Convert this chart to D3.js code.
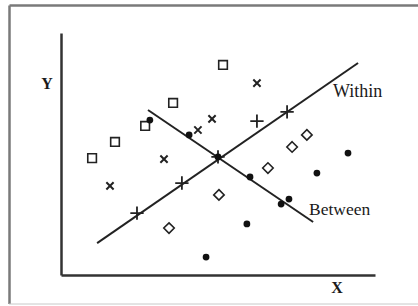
<!DOCTYPE html>
<html>
<head>
<meta charset="utf-8">
<script src="https://cdn.jsdelivr.net/npm/d3@7"></script>
<style>
  body { margin: 0; background: #fff; }
  svg { display: block; }
  .axis path { stroke: #333; stroke-width: 2.5; }
  .lbl { font-family: "Liberation Serif", "DejaVu Serif", serif; fill: #1a1a1a; }
</style>
</head>
<body>
<svg id="chart" width="418" height="306"></svg>
<script>
// point groups, in data units (0..100 on both axes)
var squares  = [[9.9, 48.3], [17.2, 55.0], [26.8, 61.6], [35.7, 71.1], [51.6, 86.8]];
var crosses  = [[15.6, 36.8], [32.8, 47.9], [43.6, 59.9], [48.1, 64.5], [62.4, 79.3]];
var pluses   = [[24.2, 25.6], [38.5, 38.0], [50.0, 48.8], [62.4, 63.6], [72.0, 67.4]];
var diamonds = [[34.4, 19.4], [50.3, 33.1], [65.9, 44.2], [73.6, 52.9], [78.3, 57.9]];
var dots     = [[28.3, 64.0], [40.8, 57.9], [50.0, 48.8], [60.2, 40.5], [70.1, 29.3],
                [72.6, 31.4], [81.5, 42.1], [91.4, 50.4], [59.2, 21.1], [46.2, 7.4]];

// the two discriminant directions
var withinLine  = [[11.5, 13.2], [94.6, 87.6]];
var betweenLine = [[27.7, 68.2], [80.3, 21.9]];
var lineNames   = ["Within", "Between"];
var axisNames   = ["X", "Y"];

var svg = d3.select("#chart");
var plotLeft = 61, plotRight = 375, plotTop = 33, plotBottom = 275;

var x = d3.scaleLinear().domain([0, 100]).range([plotLeft, plotRight]);
var y = d3.scaleLinear().domain([0, 100]).range([plotBottom, plotTop]);

// outer frame (runs off the right edge)
svg.append("line")
  .attr("x1", 9.5).attr("y1", 5.5).attr("x2", 418).attr("y2", 5.5)
  .attr("stroke", "#7a7a7a").attr("stroke-width", 2.5);
svg.append("line")
  .attr("x1", 9.5).attr("y1", 5.5).attr("x2", 9.5).attr("y2", 304)
  .attr("stroke", "#7a7a7a").attr("stroke-width", 2.5);
svg.append("line")
  .attr("x1", 9).attr("y1", 304).attr("x2", 418).attr("y2", 304)
  .attr("stroke", "#c8c8c8").attr("stroke-width", 1);

// axes, no ticks
svg.append("g")
  .attr("class", "axis")
  .attr("transform", "translate(0," + plotBottom + ")")
  .call(d3.axisBottom(x).tickValues([]).tickSizeOuter(0));
svg.append("g")
  .attr("class", "axis")
  .attr("transform", "translate(" + plotLeft + ",0)")
  .call(d3.axisLeft(y).tickValues([]).tickSizeOuter(0));

svg.append("text").attr("class", "lbl")
  .attr("x", 337).attr("y", 293)
  .attr("text-anchor", "middle")
  .attr("font-size", 16).attr("font-weight", "bold")
  .text(axisNames[0]);
svg.append("text").attr("class", "lbl")
  .attr("x", 47).attr("y", 89)
  .attr("text-anchor", "middle")
  .attr("font-size", 16).attr("font-weight", "bold")
  .text(axisNames[1]);

// lines
var line = d3.line().x(function(d) { return x(d[0]); }).y(function(d) { return y(d[1]); });
[withinLine, betweenLine].forEach(function(pts) {
  svg.append("path")
    .attr("d", line(pts))
    .attr("fill", "none")
    .attr("stroke", "#222")
    .attr("stroke-width", 2);
});

svg.append("text").attr("class", "lbl")
  .attr("x", x(86.6)).attr("y", y(73.4))
  .attr("font-size", 18)
  .text(lineNames[0]);
svg.append("text").attr("class", "lbl")
  .attr("x", x(79.0)).attr("y", y(24.6))
  .attr("font-size", 17.5)
  .text(lineNames[1]);

// markers
function drawSymbols(data, type, size, filled, sw) {
  svg.append("g")
    .selectAll("path")
    .data(data)
    .join("path")
    .attr("transform", function(d) { return "translate(" + x(d[0]) + "," + y(d[1]) + ")"; })
    .attr("d", d3.symbol().type(type).size(size))
    .attr("fill", filled ? "#111" : "none")
    .attr("stroke", filled ? "none" : "#222")
    .attr("stroke-width", sw);
}

drawSymbols(squares, d3.symbolSquare2, 95, false, 1.6);
drawSymbols(diamonds, d3.symbolDiamond2, 70, false, 1.6);
drawSymbols(crosses, d3.symbolTimes, 36, false, 2);
drawSymbols(pluses, d3.symbolPlus, 60, false, 1.8);
drawSymbols(dots, d3.symbolCircle, 36, true, 0);
</script>
</body>
</html>
